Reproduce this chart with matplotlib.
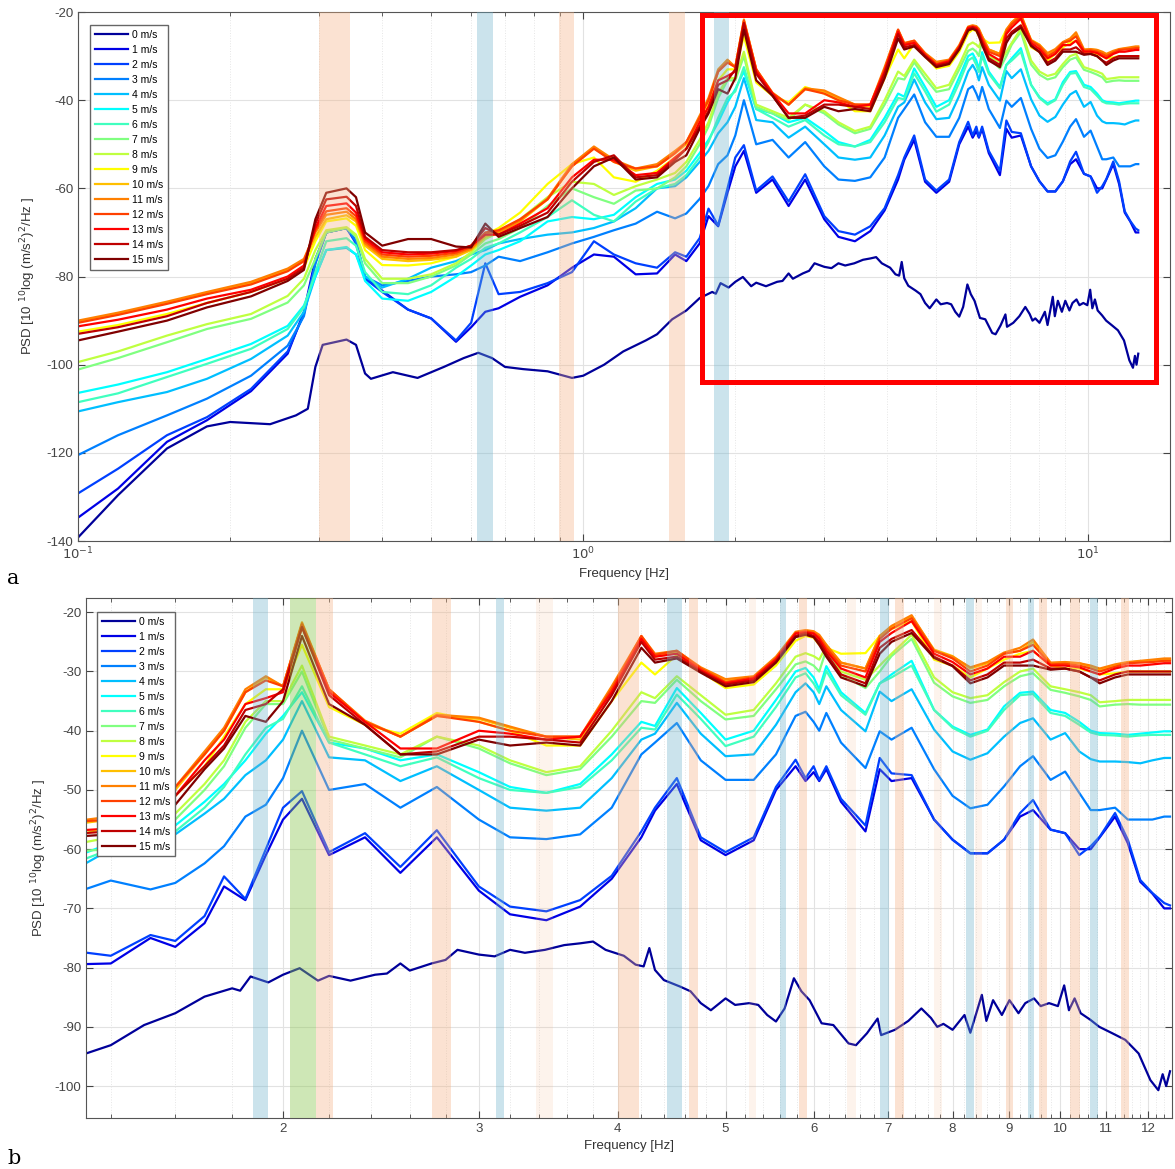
import numpy as np
import matplotlib
matplotlib.use("Agg")
import matplotlib.pyplot as plt
from matplotlib.patches import Rectangle
from matplotlib.ticker import FixedLocator, NullFormatter

plt.rcParams['font.family'] = ['Liberation Sans', 'DejaVu Sans']
plt.rcParams['axes.unicode_minus'] = False

speeds = list(range(16))
labels = [f"{s} m/s" for s in speeds]
colors = ['#00009a', '#0000e6', '#0040ff', '#0080ff', '#00bfff', '#00ffff',
          '#40ffbf', '#80ff80', '#bfff40', '#ffff00', '#ffbf00', '#ff8000',
          '#ff4000', '#ff0000', '#bf0000', '#800000']

# frequency knots (Hz) shared by 1..15 m/s
f_lo = [0.1, 0.12, 0.15, 0.18, 0.22, 0.26, 0.28, 0.295, 0.31, 0.34,
        0.355, 0.37, 0.4, 0.45, 0.5, 0.56, 0.6, 0.64, 0.68, 0.75,
        0.85, 0.95, 1.05, 1.15, 1.27]
f_hi = [1.4, 1.52, 1.6, 1.7, 1.77, 1.85, 1.93, 2.0, 2.08, 2.2,
        2.37, 2.55, 2.75, 3.0, 3.2, 3.45, 3.7, 3.95, 4.2, 4.32,
        4.52, 4.75, 5.0, 5.3, 5.55, 5.78, 5.9, 6.0, 6.07, 6.16,
        6.35, 6.68, 6.88, 7.05, 7.35, 7.7, 8.0, 8.3, 8.6, 8.9,
        9.2, 9.45, 9.8, 10.1, 10.4, 10.65, 10.85, 11.2, 11.5, 11.8,
        12.1, 12.4, 12.55]
freq = f_lo + f_hi

# 0 m/s has its own, denser frequency list
f0 = [0.1, 0.12, 0.15, 0.18, 0.2, 0.24, 0.27, 0.285, 0.295, 0.305,
      0.34, 0.355, 0.37, 0.38, 0.42, 0.47, 0.53, 0.58, 0.62, 0.66,
      0.7, 0.76, 0.85, 0.95, 1.0, 1.1, 1.2, 1.33, 1.4, 1.5,
      1.6, 1.7, 1.8, 1.83, 1.87, 1.94, 2.0, 2.07, 2.15, 2.2,
      2.3, 2.42, 2.48, 2.55, 2.6, 2.72, 2.8, 2.87, 3.0, 3.1,
      3.2, 3.3, 3.44, 3.58, 3.7, 3.8, 3.9, 4.05, 4.15, 4.22,
      4.27, 4.32, 4.4, 4.55, 4.65, 4.75, 4.85, 5.0, 5.1, 5.25,
      5.35, 5.45, 5.55, 5.65, 5.76, 5.85, 5.95, 6.1, 6.25, 6.45,
      6.55, 6.7, 6.85, 6.9, 7.1, 7.3, 7.5, 7.65, 7.75, 7.85,
      8.0, 8.2, 8.3, 8.4, 8.5, 8.58, 8.7, 8.86, 9.0, 9.17,
      9.3, 9.47, 9.6, 9.77, 9.95, 10.08, 10.18, 10.3, 10.43, 10.64,
      10.84, 11.14, 11.44, 11.76, 12.05, 12.25, 12.36, 12.45, 12.55]
s0 = [-139.2, -129.6, -119, -114, -113, -113.5, -111.5, -110, -100.5, -95.5,
      -94.3, -95.5, -102, -103.2, -101.7, -103, -100.5, -98.5, -97.3, -98.5,
      -100.5, -101, -101.5, -103, -102.5, -100, -97, -94.5, -93.1, -89.7,
      -87.7, -84.9, -83.5, -83.9, -81.5, -82.5, -81.2, -80.1, -82.2, -81.4,
      -82.2, -81.2, -81, -79.3, -80.5, -79.3, -78.7, -77, -77.8, -78.1,
      -77, -77.5, -77, -76.2, -75.9, -75.6, -77, -78, -79.5, -79.8,
      -76.7, -80.4, -82.1, -83.2, -84, -86, -87.2, -85.2, -86.3, -86,
      -86.3, -88, -89.1, -86.9, -81.8, -84, -85.5, -89.4, -89.7, -92.8,
      -93.1, -91.1, -88.6, -91.4, -90.5, -89, -86.9, -88.5, -90, -89.5,
      -90.5, -88, -91, -87.8, -84.6, -89, -85.5, -88, -85.5, -87.7,
      -86, -85.2, -86.5, -86, -86.5, -83, -87.2, -85.2, -87.7, -88.8,
      -90, -91.1, -92.2, -94.5, -99, -100.7, -98, -100, -97.5]

s1 = [-134.7, -128.1, -117.5, -112.6, -106, -97.5, -88, -76, -70, -69,
      -72, -80, -83.2, -87.5, -89.5, -94.8, -91.5, -88, -87.2, -84.6,
      -82, -78, -75, -75.5, -79.5,
      -79.3, -75, -76.5, -72.5, -66.3, -68.6, -61, -55, -51.5, -61,
      -58, -64, -58, -67, -71, -72, -69.7, -65, -58, -53.5,
      -49, -58.5, -61, -58.5, -50, -46, -48.5, -47, -48.5, -46.5,
      -52, -57, -46.5, -48.5, -48, -55, -58.4, -60.7, -60.7, -58.4,
      -54.5, -53.4, -56.7, -57.3, -60, -60, -58, -54.5, -59, -65.5,
      -67.5, -70, -70]
s2 = [-129.2, -123.6, -116, -111.9, -105.5, -97, -88.5, -77, -70, -69,
      -72.5, -80.5, -83.5, -87.5, -89.5, -94.5, -90.5, -77, -84, -83.5,
      -81.5, -79, -72, -75, -77,
      -78, -74.5, -75.5, -71.3, -64.6, -68.4, -60, -53, -50.2, -60.5,
      -57.3, -63, -56.8, -66.3, -69.7, -70.5, -68.6, -64.5, -57, -53,
      -48, -58, -60.5, -58, -49.5, -44.9, -48, -46, -48.3, -46,
      -51.5, -56, -44.6, -47.2, -47.5, -55, -58.4, -60.7, -60.7, -58.4,
      -53.9, -51.7, -56.7, -57.3, -61, -59.5, -57.9, -53.9, -58.4, -65.2,
      -67.4, -69.1, -69.5]
s3 = [-120.5, -116, -111.5, -107.7, -102.5, -95.7, -89, -77, -70, -69,
      -72, -80, -82, -81, -80, -79.5, -79, -77.5, -75.5, -76.5,
      -74.5, -72.5, -71, -69.5, -68,
      -65.3, -66.8, -65.7, -62.4, -59.5, -54.5, -52.5, -48, -40, -50,
      -49, -53, -49.5, -55, -58, -58.3, -57.5, -53, -44, -42,
      -38.7, -45, -48.3, -48.3, -44, -37.5, -36.8, -38.5, -40, -37,
      -42, -46.3, -40.1, -41.5, -39.5, -46.5, -51, -53.1, -52.5, -49.4,
      -46, -44.3, -48.3, -46.9, -50.5, -53.4, -53.4, -53, -55, -55,
      -55, -54.5, -54.5]
s4 = [-110.6, -108.5, -106.2, -103.2, -98.7, -93.4, -88, -80, -74, -73.5,
      -75, -80, -82.5, -80.5, -78, -76.5, -75, -74, -72.5, -71.5,
      -70.5, -70, -69, -67.5, -64.5,
      -60, -59.5, -57.5, -54, -51.5, -47.5, -45, -41.5, -35, -44.5,
      -45, -48.5, -46, -50, -53, -53.5, -53, -48, -41.5, -40.5,
      -35.3, -40.5, -44.3, -44, -39, -33.5, -32, -33.5, -35.5, -32.5,
      -36.5, -40.1, -33.4, -35, -33, -39.8, -43.5, -44.9, -43.8, -41,
      -38.7, -37.9, -41.5, -40.4, -43.5, -44.8, -45.2, -45.2, -45.3, -45.5,
      -45, -44.6, -44.6]
s5 = [-106.4, -104.5, -101.7, -98.7, -95.3, -91.2, -86.6, -80, -74, -73.3,
      -75, -81, -85, -85.5, -83.5, -80, -77.5, -75, -74, -72,
      -67.5, -66.5, -67, -66, -62,
      -59, -58, -56, -52, -49, -45, -40.5, -37.5, -33.5, -42,
      -43, -45, -44, -47, -49.5, -50.5, -49, -44, -38.5, -39.2,
      -32.8, -37, -41.5, -40, -34.8, -30, -29.4, -31, -33, -29.1,
      -33.5, -37, -32, -30.5, -28.2, -36.5, -39.3, -40.7, -39.8, -35.9,
      -33.6, -33.4, -36.5, -37, -38.5, -40, -40.4, -40.5, -40.7, -40.5,
      -40.3, -40.1, -40.1]
s6 = [-108.5, -106.5, -102.8, -99.8, -96.4, -91.9, -87, -79, -72, -71.3,
      -73, -79, -83.5, -84, -82, -78, -76, -73.5, -72.5, -70,
      -66.5, -62.7, -66, -67.5, -63,
      -60, -59, -57, -53, -49.5, -44, -39.5, -38, -32.5, -42,
      -44, -46, -44.5, -48, -50, -50.5, -49.5, -45, -39.5, -39.8,
      -33.9, -38, -42.6, -41, -36, -31, -30.3, -32, -33.6, -29.9,
      -34, -37.3, -32, -31, -29, -36.5, -39.5, -41, -40, -36.5,
      -34, -33.8, -37, -37.5, -39, -40.3, -40.7, -40.8, -41, -40.8,
      -40.7, -40.7, -40.7]
s7 = [-101.1, -98.5, -94.9, -91.9, -89.6, -85.9, -82, -76, -70, -69,
      -71, -77, -81.5, -81.5, -80, -77.5, -75, -72.5, -71.5, -69,
      -64, -60, -62, -63.5, -60.5,
      -60, -57.5, -55, -50, -46, -39.5, -35.5, -35.5, -30, -41.5,
      -43, -44.5, -41, -43, -45.5, -47.5, -46.5, -41, -35, -35.3,
      -31.4, -35, -38.1, -37.5, -33, -28.8, -28.3, -29, -30, -26.3,
      -30.5, -32.8, -30, -27.4, -24.5, -31.9, -34.2, -35.3, -34.8, -32.5,
      -30.8, -30.3, -33.1, -33.6, -34.2, -34.8, -35.9, -35.6, -35.5, -35.6,
      -35.6, -35.6, -35.6]
s8 = [-99.4, -97, -93.4, -90.8, -88.5, -84.4, -80.5, -74, -69.5, -68.8,
      -70.5, -76, -80.5, -80.5, -79.5, -77, -74.5, -71.5, -70, -67,
      -62, -58.5, -59, -61.5, -59.5,
      -58, -56.5, -54, -49, -45, -38.5, -35, -35, -29, -41,
      -42.5, -44, -41, -42.5, -45, -47, -46, -40, -33.5, -34.5,
      -30.8, -34, -37.3, -36.5, -32, -27.5, -26.9, -27.4, -28, -25.7,
      -30, -31.4, -29, -27, -23.8, -31, -33.5, -34.5, -34, -31.8,
      -30, -29.5, -32.5, -33, -33.5, -34, -35.2, -35, -34.8, -34.8,
      -34.8, -34.8, -34.8]
s9 = [-92.5, -91, -88.5, -86, -83.5, -80.5, -78, -72, -67.5, -66.8,
      -68.5, -74, -77.4, -77.5, -77, -75.5, -73.5, -70.5, -69, -65.5,
      -59, -54.5, -53, -57.5, -58.5,
      -56, -53, -51, -46, -41, -35.5, -33, -33, -25.5, -36,
      -39, -40.5, -37, -38.5, -40, -42.5, -42.5, -35, -28.5, -30.5,
      -27.2, -30, -32.8, -32.2, -29, -24.8, -24, -24.3, -25.5, -26,
      -27, -26.9, -24, -22.8, -21.5, -28, -29, -31, -29.5, -28,
      -27, -26.5, -29, -29.5, -29.5, -30, -30.5, -30.3, -30, -30,
      -30, -30, -30]
s10 = [-90.2, -88.5, -86, -83.7, -81.5, -78.5, -76.5, -71, -67, -66.1,
       -67.5, -73, -76, -76.5, -76.2, -75.5, -74, -71, -70, -67.5,
       -62.5, -55, -50.8, -54, -56,
       -55, -52, -50, -44, -40, -33.5, -31, -32.5, -22, -33,
       -38.5, -41, -37.5, -38, -39.5, -41, -41.5, -33, -24.2, -27.5,
       -26.8, -29.5, -31.5, -31, -27.8, -23.5, -23.2, -23.5, -24, -25.5,
       -28.5, -29.5, -24, -22.5, -20.7, -26.3, -27.4, -29.5, -28.6, -27,
       -26.5, -25, -28.6, -28.5, -28.6, -29.2, -29.7, -29, -28.5, -28.3,
       -28.2, -28, -28]
s11 = [-90, -88.2, -85.7, -83.5, -81.2, -78.2, -76, -70, -66, -65.3,
       -67, -72.5, -75.5, -76, -75.8, -75, -73.7, -70.5, -69.8, -67.3,
       -62.3, -54.5, -50.5, -53.5, -55.5,
       -54.5, -51.5, -49.5, -43.5, -39.5, -33, -30.8, -32.5, -21.7, -33,
       -38.3, -41, -37.3, -37.8, -39.3, -41, -41, -32.5, -24, -27,
       -26.5, -29.3, -31.3, -30.8, -27.5, -23.3, -23, -23.2, -23.8, -25.5,
       -28.5, -29.5, -24, -22.3, -20.5, -26.5, -27.5, -29.3, -28.4, -26.8,
       -26, -24.6, -28.5, -28.4, -28.6, -29, -29.5, -28.8, -28.4, -28.2,
       -28, -27.8, -27.8]
s12 = [-90.5, -88.7, -86.2, -84, -81.8, -78.8, -76.5, -69.5, -65.2, -64.5,
       -66.3, -72, -75, -75.5, -75.3, -74.6, -73.3, -70, -69.5, -67,
       -62.5, -55, -51, -54, -55.5,
       -55, -52, -49.5, -44, -40, -33.5, -31.5, -32.5, -22, -33,
       -38.5, -41, -37.5, -38.5, -40, -41, -41, -33, -24, -27.2,
       -26.5, -29.5, -31.8, -31, -27.8, -23.5, -23.2, -23.5, -24.2, -26,
       -29, -30, -24.5, -22.8, -21, -26.5, -27.8, -30, -29, -27,
       -26.5, -25.5, -28.8, -28.7, -29, -29.5, -30, -29.2, -28.6, -28.5,
       -28.4, -28.2, -28.2]
s13 = [-91.3, -89.8, -87.5, -85, -83, -80, -77.5, -69, -64, -63.4,
       -65.5, -71.5, -74.5, -75, -74.8, -74.2, -73, -70.5, -70.5, -68,
       -64.5, -57.5, -53.5, -53.5, -57,
       -56.5, -53, -51, -45, -41.5, -35.5, -34.5, -33.5, -22.5, -33.5,
       -38.5, -43, -43, -40, -40.5, -41.5, -41, -33.5, -24.5, -27.5,
       -27, -29.8, -32, -31.2, -28, -23.6, -23.4, -23.6, -24.5, -26.5,
       -29.5, -31, -25, -23.5, -21.5, -27, -28.4, -30.5, -29.5, -27.5,
       -27.5, -26.5, -29, -29, -29.3, -30, -30.5, -29.5, -29, -29,
       -28.8, -28.6, -28.6]
s14 = [-93, -91.5, -89, -86, -83.5, -80.5, -78, -68, -62.5, -61.9,
       -64, -71, -74, -74.5, -74.5, -74, -73, -69, -70.5, -68.5,
       -65.5, -58.5, -54, -52.5, -57.5,
       -57, -53.5, -51, -46, -42.5, -36.5, -35.5, -33, -22.5, -34,
       -39, -44, -43.5, -41, -41, -41.5, -42, -34, -25, -28,
       -27.5, -30, -32.2, -31.5, -28.3, -24, -23.5, -24, -25, -27,
       -30.5, -32, -26, -24.5, -23, -27.5, -29, -31.5, -30.5, -28.5,
       -28.5, -28, -29.5, -29.5, -30, -31, -31.5, -30.5, -30, -30,
       -30, -30, -30]
s15 = [-94.5, -92.5, -90, -87, -84.5, -81, -78.5, -67, -61, -60,
       -62, -70, -73, -71.5, -71.5, -73.2, -73.4, -68, -71, -69,
       -66.5, -60, -55, -53, -58,
       -57.5, -54, -52.5, -46.5, -43, -37.5, -38.5, -35, -24, -35.5,
       -39, -44, -44, -41.5, -42.5, -42, -42.5, -35, -26, -28.5,
       -27.8, -30.2, -32.5, -31.8, -28.5, -24.2, -23.8, -24.2, -25.5, -27.5,
       -31, -32.5, -27, -25, -23.5, -27.7, -29.1, -32, -31, -29,
       -29, -29, -29.7, -29.5, -30, -31, -32, -31, -30.5, -30.5,
       -30.5, -30.5, -30.5]

series = [s1, s2, s3, s4, s5, s6, s7, s8, s9, s10, s11, s12, s13, s14, s15]

# highlighted frequency bands (Hz) and their colours
bands_a = [(0.30, 0.345, 'o'), (0.617, 0.664, 'b'), (0.897, 0.96, 'o'),
           (1.48, 1.59, 'o'), (1.815, 1.94, 'b')]
bands_b = [(1.88, 1.94, 'b'), (2.03, 2.14, 'g'), (2.14, 2.22, 'o'),
           (2.72, 2.83, 'o'), (3.11, 3.16, 'b'), (3.38, 3.50, 'f'),
           (4.0, 4.18, 'o'), (4.43, 4.57, 'b'), (4.64, 4.72, 'o'),
           (5.25, 5.33, 'f'), (5.60, 5.67, 'b'), (5.82, 5.92, 'o'),
           (6.43, 6.55, 'f'), (6.89, 7.01, 'b'), (7.10, 7.24, 'o'),
           (7.70, 7.83, 'f'), (8.23, 8.36, 'b'), (8.38, 8.50, 'f'),
           (8.93, 9.07, 'o'), (9.35, 9.47, 'b'), (9.56, 9.73, 'o'),
           (10.21, 10.42, 'o'), (10.64, 10.81, 'b'), (11.33, 11.52, 'o')]
band_style = {'o': ('#f4b183', 0.36), 'b': ('#6fb3cc', 0.36),
              'g': ('#8cc751', 0.42), 'f': ('#f4b183', 0.15)}


def draw_curves(ax):
    ax.plot(f0, s0, color=colors[0], lw=1.6, label=labels[0])
    for i, s in enumerate(series, start=1):
        ax.plot(freq, s, color=colors[i], lw=1.6, label=labels[i])


def style_axes(ax):
    ax.grid(which='major', color='#e2e2e2', lw=0.8, ls='-')
    ax.grid(which='minor', color='#e6e6e6', lw=0.7, ls=':')
    ax.set_axisbelow(True)
    ax.tick_params(which='both', direction='in', top=True, right=True,
                   colors='#444444', labelsize=9.5)
    ax.tick_params(which='major', length=5)
    ax.tick_params(which='minor', length=3)
    for sp in ax.spines.values():
        sp.set_color('#555555')
    ax.set_xlabel('Frequency [Hz]', fontsize=9.5, color='#333333')
    ax.set_ylabel(r'PSD [10 $^{10}$log (m/s$^2$)$^2$/Hz ]', fontsize=9.5,
                  color='#333333')


def add_legend(ax, x, y):
    leg = ax.legend(loc='upper left', bbox_to_anchor=(x, y), borderaxespad=0,
                    fontsize=7.5, handlelength=3.2, handletextpad=0.4,
                    labelspacing=0.48, borderpad=0.45, fancybox=False,
                    edgecolor='#666666', framealpha=1)
    leg.set_zorder(6)


fig = plt.figure(figsize=(11.75, 11.69), dpi=100)

# ---- panel a
ax1 = fig.add_axes([0.0664, 0.5372, 0.9293, 0.4525])
ax1.set_xscale('log')
draw_curves(ax1)
for lo, hi, k in bands_a:
    c, a = band_style[k]
    ax1.axvspan(lo, hi, color=c, alpha=a, lw=0, zorder=3)
ax1.set_xlim(0.1, 14.5)
ax1.set_ylim(-140, -20)
ax1.set_yticks(range(-140, -19, 20))
ax1.set_xticks([0.1, 1, 10])
ax1.set_xticklabels([r'$10^{-1}$', r'$10^{0}$', r'$10^{1}$'])
style_axes(ax1)
ax1.yaxis.set_label_coords(-0.037, 0.5)
add_legend(ax1, 0.011, 0.975)
ax1.add_patch(Rectangle((1.72, -104), 13.6 - 1.72, 83.4, fill=False,
                        edgecolor='#ff0000', lw=3.6, zorder=7, clip_on=False))

# ---- panel b
ax2 = fig.add_axes([0.0732, 0.0436, 0.9242, 0.4448])
ax2.set_xscale('log')
draw_curves(ax2)
for lo, hi, k in bands_b:
    c, a = band_style[k]
    ax2.axvspan(lo, hi, color=c, alpha=a, lw=0, zorder=3)
ax2.set_xlim(1.33, 12.6)
ax2.set_ylim(-105.4, -17.6)
ax2.set_yticks(range(-100, -19, 10))
major_b = list(range(2, 13))
ax2.xaxis.set_major_locator(FixedLocator(major_b))
ax2.set_xticklabels([str(v) for v in major_b])
minor_b = [round(v, 1) for v in np.arange(1.4, 12.61, 0.2)
           if abs(v - round(v)) > 0.05]
ax2.xaxis.set_minor_locator(FixedLocator(minor_b))
ax2.xaxis.set_minor_formatter(NullFormatter())
style_axes(ax2)
add_legend(ax2, 0.010, 0.973)

fig.text(0.006, 1 - 578 / 1169, 'a', family='DejaVu Serif', fontsize=15,
         va='center')
fig.text(0.006, 1 - 1158 / 1169, 'b', family='DejaVu Serif', fontsize=15,
         va='center')

fig.savefig('out.png', dpi=100)
